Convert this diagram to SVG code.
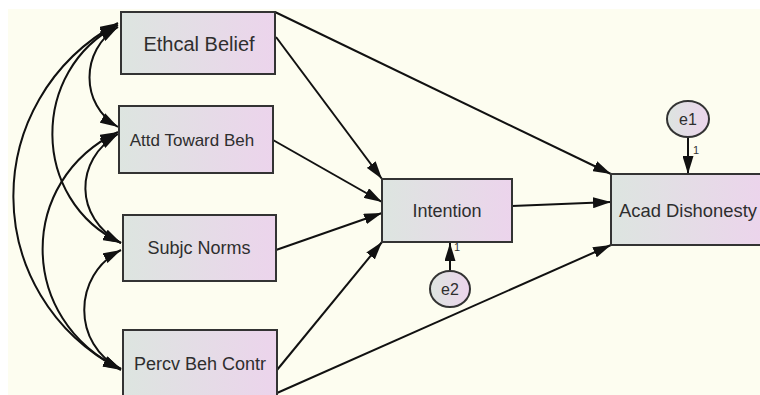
<svg xmlns="http://www.w3.org/2000/svg" width="760" height="395" viewBox="0 0 760 395">
<defs>
<linearGradient id="g" x1="0" y1="0" x2="1" y2="0">
<stop offset="0" stop-color="#dde5e0"/>
<stop offset="1" stop-color="#ecd4ec"/>
</linearGradient>
<marker id="ah" viewBox="0 0 18 11" refX="18" refY="5.5" markerWidth="18" markerHeight="11" markerUnits="userSpaceOnUse" orient="auto-start-reverse">
<path d="M0,0 L18,5.5 L0,11 z" fill="#111"/>
</marker>
<style>
.box{fill:url(#g);stroke:#333;stroke-width:2}
.ell{fill:url(#g);stroke:#333;stroke-width:2}
.lbl{font-family:"Liberation Sans",Arial,sans-serif;fill:#2e2e2e;text-anchor:middle;dominant-baseline:central}
.num{font-family:"Liberation Sans",Arial,sans-serif;fill:#333;font-size:11px}
.ln{fill:none;stroke:#111;stroke-width:2}
</style>
</defs>
<rect x="0" y="0" width="760" height="395" fill="#ffffff"/>
<rect x="8" y="9" width="752" height="386" fill="#fdfdf0"/>
<g id="connectors">
<path class="ln" d="M275,12 L611,174" marker-end="url(#ah)"/>
<path class="ln" d="M276,37 L382,179" marker-end="url(#ah)"/>
<path class="ln" d="M273,140 L382,202" marker-end="url(#ah)"/>
<path class="ln" d="M276,250 L382,213" marker-end="url(#ah)"/>
<path class="ln" d="M277,370 L382,242" marker-end="url(#ah)"/>
<path class="ln" d="M277,393 L611,245" marker-end="url(#ah)"/>
<path class="ln" d="M512,206 L611,202" marker-end="url(#ah)"/>
<path class="ln" d="M688,137 L688,174" marker-end="url(#ah)"/>
<path class="ln" d="M450,271 L450,243" marker-end="url(#ah)"/>
<path class="ln" d="M118,27 C80,50 80,105 118,127" marker-start="url(#ah)" marker-end="url(#ah)"/>
<path class="ln" d="M118,134 C74,160 74,218 121,243" marker-start="url(#ah)" marker-end="url(#ah)"/>
<path class="ln" d="M121,250 C72,275 72,345 121,369" marker-start="url(#ah)" marker-end="url(#ah)"/>
<path class="ln" d="M118,25 C30,70 30,200 121,243" marker-start="url(#ah)" marker-end="url(#ah)"/>
<path class="ln" d="M118,132 C17,180 17,320 121,369" marker-start="url(#ah)" marker-end="url(#ah)"/>
<path class="ln" d="M118,23 C-22,100 -22,295 121,370" marker-start="url(#ah)" marker-end="url(#ah)"/>
<text class="num" x="693" y="154">1</text>
<text class="num" x="454" y="251" font-size="10">1</text>
</g>
<g id="ethical-belief">
<rect class="box" x="121" y="12" width="154" height="62"/>
<text class="lbl" x="199" y="44" font-size="20">Ethcal Belief</text>
</g>
<g id="attd-toward-beh">
<rect class="box" x="119" y="106" width="154" height="67"/>
<text class="lbl" x="192" y="140" font-size="17">Attd Toward Beh</text>
</g>
<g id="subjc-norms">
<rect class="box" x="123" y="215" width="153" height="66"/>
<text class="lbl" x="199" y="248" font-size="18">Subjc Norms</text>
</g>
<g id="percv-beh-contr">
<rect class="box" x="123" y="330" width="154" height="66"/>
<text class="lbl" x="200" y="364" font-size="18">Percv Beh Contr</text>
</g>
<g id="intention">
<rect class="box" x="382" y="179" width="130" height="63"/>
<text class="lbl" x="447" y="211" font-size="18">Intention</text>
</g>
<g id="acad-dishonesty">
<rect class="box" x="611" y="174" width="155" height="71"/>
<text class="lbl" x="688" y="210" font-size="18.4">Acad Dishonesty</text>
</g>
<g id="e1">
<ellipse class="ell" cx="688" cy="119" rx="21" ry="18"/>
<text class="lbl" x="688" y="119" font-size="16">e1</text>
</g>
<g id="e2">
<ellipse class="ell" cx="450" cy="289" rx="20" ry="18"/>
<text class="lbl" x="450" y="289" font-size="16">e2</text>
</g>
</svg>
